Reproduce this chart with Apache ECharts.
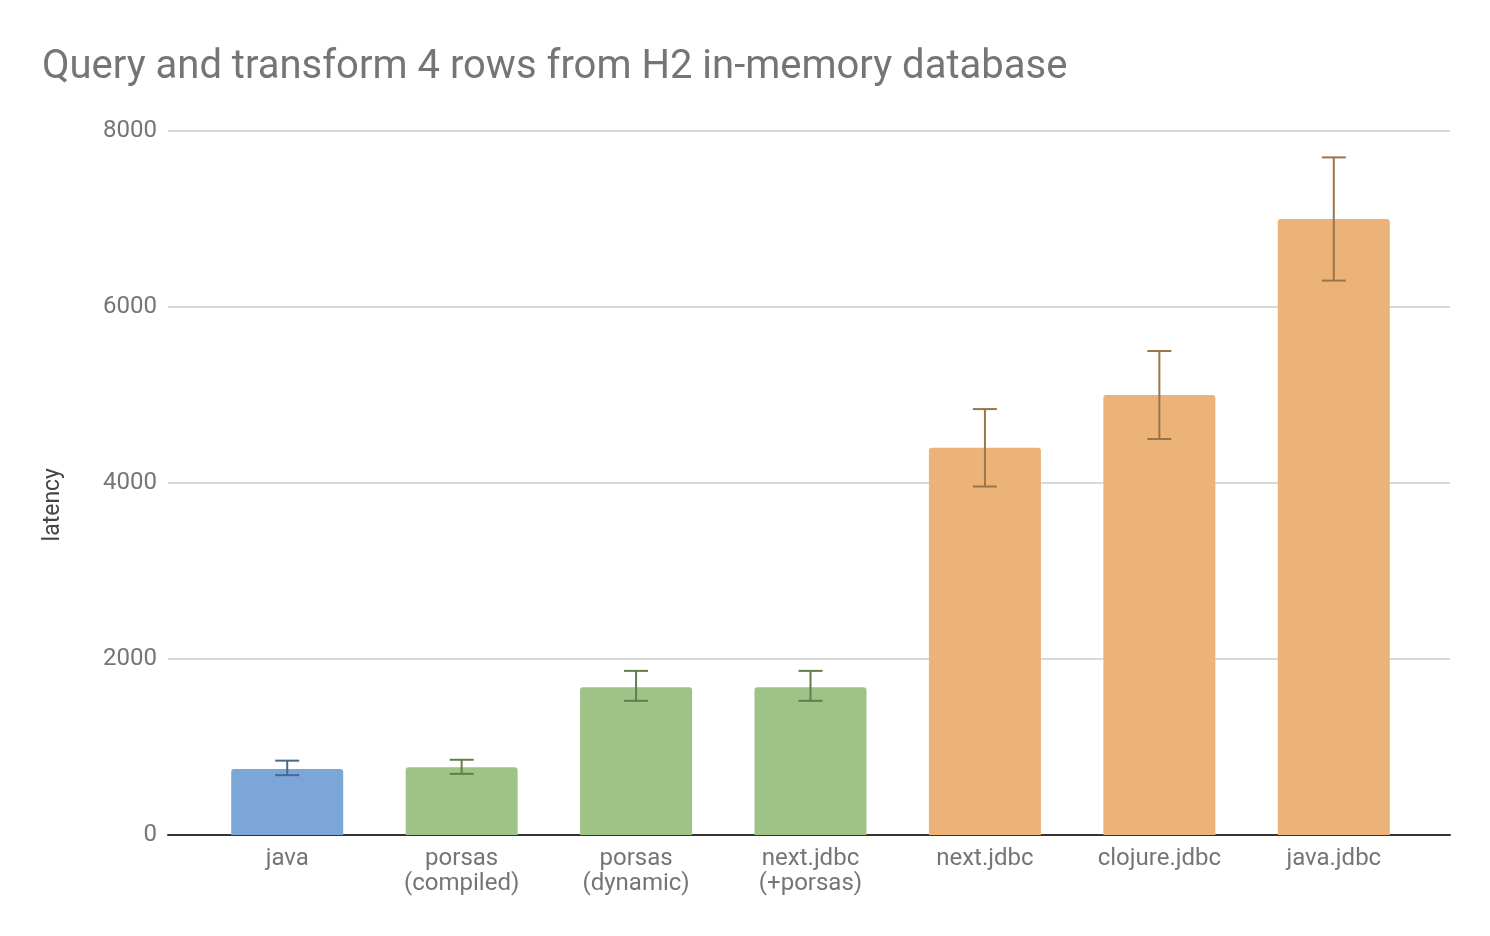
<!DOCTYPE html>
<html>
<head>
<meta charset="utf-8">
<script src="https://cdn.jsdelivr.net/npm/echarts@6/dist/echarts.min.js"></script>
<style>
  html, body { margin: 0; padding: 0; background: #fff; }
  #chart { width: 1490px; height: 936px; }
</style>
</head>
<body>
<div id="chart"></div>
<script>
const CATEGORIES = ['java', 'porsas\n(compiled)', 'porsas\n(dynamic)', 'next.jdbc\n(+porsas)', 'next.jdbc', 'clojure.jdbc', 'java.jdbc'];
const LATENCY = [750, 770, 1680, 1680, 4400, 5000, 7000];
const ERR_LOW = [680, 695, 1525, 1525, 3960, 4500, 6300];
const ERR_HIGH = [845, 855, 1865, 1865, 4840, 5500, 7700];
const GROUP = ['java', 'porsas', 'porsas', 'porsas', 'jdbc', 'jdbc', 'jdbc'];
const Y_TICKS = [0, 2000, 4000, 6000, 8000];

const FILL = { java: '#7ba6d7', porsas: '#9fc386', jdbc: '#ebb378' };
const ERR_COLOR = { java: '#48698d', porsas: '#617d4c', jdbc: '#9b7549' };
const FONT = 'Roboto, "Noto Sans", sans-serif';

const chart = echarts.init(document.getElementById('chart'), null, { renderer: 'canvas' });

chart.setOption({
  backgroundColor: '#fff',
  animation: false,
  title: {
    text: 'Query and transform 4 rows from H2 in-memory database',
    left: 37, top: 43,
    textStyle: { color: '#757575', fontSize: 40, fontWeight: 'normal', fontFamily: FONT },
  },
  graphic: [{
    type: 'text', left: 42, top: 468, rotation: Math.PI / 2,
    style: { text: 'latency', fill: '#444', fontSize: 23, fontFamily: FONT },
  }],
  grid: [
    { left: 168, right: 40, top: 131, bottom: 101 },
    { left: 200, right: 69, top: 131, bottom: 101 },
  ],
  xAxis: [
    {
      type: 'value', gridIndex: 0, min: 0, max: 1,
      axisLine: { show: true, onZero: false, lineStyle: { color: '#333', width: 2 } },
      axisTick: { show: false }, axisLabel: { show: false }, splitLine: { show: false },
    },
    {
      type: 'category', gridIndex: 1, data: CATEGORIES,
      axisLine: { show: false }, axisTick: { show: false },
      axisLabel: { color: '#757575', fontSize: 24, fontFamily: FONT, margin: 11, lineHeight: 25 },
    },
  ],
  yAxis: [
    {
      type: 'value', gridIndex: 0, min: Y_TICKS[0], max: Y_TICKS[Y_TICKS.length - 1], interval: 2000,
      axisLine: { show: false }, axisTick: { show: false },
      axisLabel: { color: '#757575', fontSize: 24, fontFamily: FONT, margin: 11, formatter: v => String(v) },
      splitLine: { lineStyle: { color: '#cccccc', width: 1.5 } },
    },
    {
      type: 'value', gridIndex: 1, min: Y_TICKS[0], max: Y_TICKS[Y_TICKS.length - 1],
      show: false, splitLine: { show: false },
    },
  ],
  series: [
    {
      type: 'bar', xAxisIndex: 1, yAxisIndex: 1, barWidth: 112,
      data: LATENCY.map((v, i) => ({
        value: v,
        itemStyle: { color: FILL[GROUP[i]], borderRadius: [3, 3, 0, 0] },
      })),
    },
    {
      type: 'custom', xAxisIndex: 1, yAxisIndex: 1,
      data: LATENCY.map((v, i) => [i, ERR_LOW[i], ERR_HIGH[i]]),
      renderItem: (params, api) => {
        const i = api.value(0);
        const lo = api.coord([i, api.value(1)]);
        const hi = api.coord([i, api.value(2)]);
        const half = 12;
        const style = { stroke: ERR_COLOR[GROUP[i]], lineWidth: 2 };
        return {
          type: 'group',
          children: [
            { type: 'line', shape: { x1: lo[0], y1: lo[1], x2: hi[0], y2: hi[1] }, style },
            { type: 'line', shape: { x1: lo[0] - half, y1: lo[1], x2: lo[0] + half, y2: lo[1] }, style },
            { type: 'line', shape: { x1: hi[0] - half, y1: hi[1], x2: hi[0] + half, y2: hi[1] }, style },
          ],
        };
      },
      z: 3,
    },
  ],
});
</script>
</body>
</html>
